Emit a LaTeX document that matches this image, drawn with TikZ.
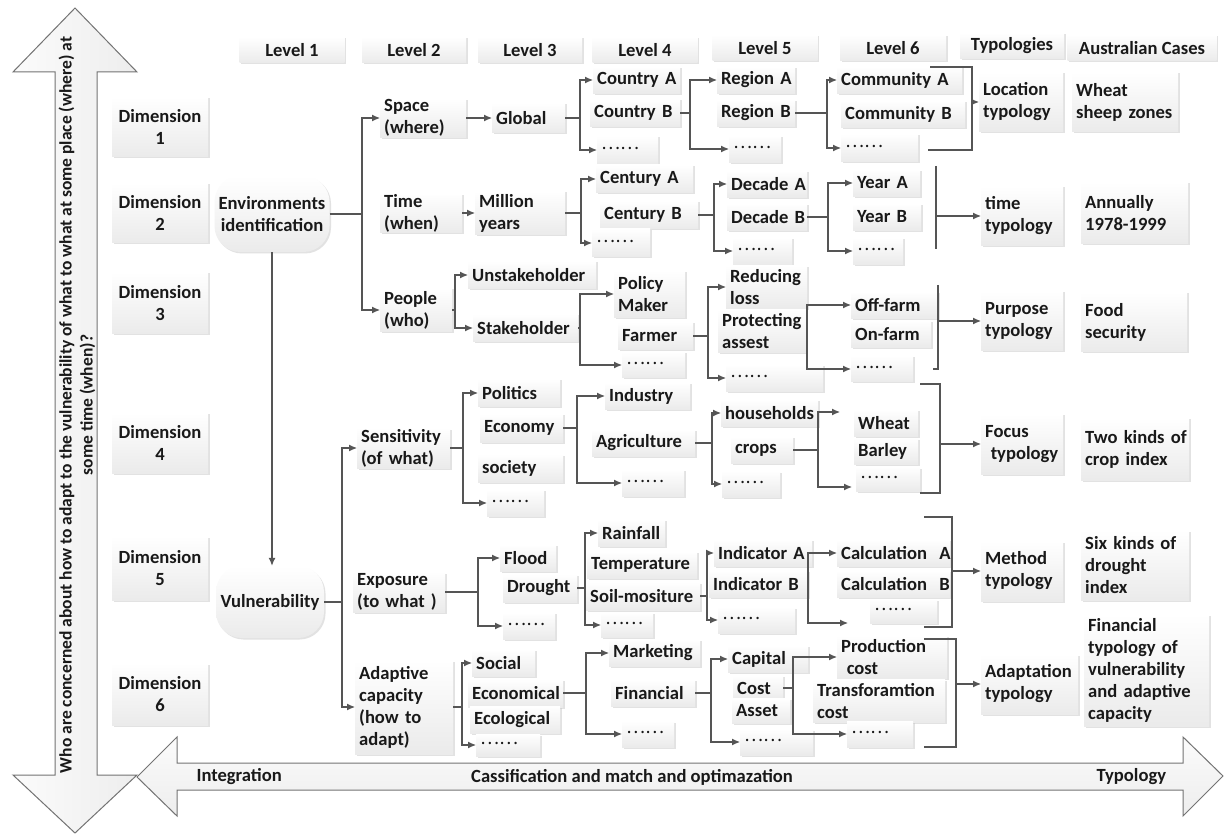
\documentclass[tikz,border=0pt]{standalone}
\usepackage{fontspec}
\setmainfont{Carlito}
\newfontfamily\cjk{Noto Sans CJK SC}
\usetikzlibrary{shadows,arrows.meta}
\definecolor{lncol}{RGB}{85,85,85}
\definecolor{txt}{RGB}{25,25,25}
\newcommand\dd{\raisebox{0.22em}{\cjk\mdseries\fontsize{18}{20}\selectfont ……}}
\newcommand\bn[6]{\pgfmathsetmacro\mytw{#4-8}\node[bx,anchor=west,text width=\mytw pt,minimum height=#5pt] (#1) at (#2,#3) {#6};}
\newcommand\cn[6]{\node[bx,anchor=center,align=center,minimum width=#4pt,minimum height=#5pt] (#1) at (#2,#3) {#6};}
\newcommand\fork[4]{\draw[ln] (#1.east) -- (#1.east -| #2);
  \draw[arr] (#1.east -| #2) |- (#3.west);
  \draw[arr] (#1.east -| #2) |- (#4.west);}
\begin{document}
\begin{tikzpicture}[x=1pt,y=-1pt,
  every node/.style={font=\bfseries\fontsize{18.6}{22}\selectfont, text=txt},
  bx/.style={top color=white, bottom color=gray!16,
    drop shadow={shadow xshift=1.5pt,shadow yshift=-1.5pt,fill=gray!45,opacity=.5},
    inner xsep=4pt, inner ysep=1pt, align=left},
  ln/.style={draw=lncol, line width=1.1pt},
  arr/.style={ln, -{Latex[length=8pt,width=7pt]}},
  big/.style={draw=black!55, line width=1pt}]
\useasboundingbox (0,0) rectangle (1227,834);
\fill[white] (0,0) rectangle (1227,834);

% big arrows
\path[big, left color=gray!3, right color=gray!14]
  (55,72) -- (13,72) -- (75,8) -- (137,72) -- (97,72) -- (97,775) -- (137,775) -- (75,833) -- (13,775) -- (55,775) -- cycle;
\path[big, top color=gray!3, bottom color=gray!14]
  (177,763) -- (177,737) -- (137,777) -- (177,816) -- (177,790) -- (1183,790) -- (1183,816) -- (1223,776) -- (1183,737) -- (1183,763) -- cycle;
\node[rotate=90, align=center, font=\bfseries\fontsize{17.5}{21}\selectfont] (vtext) at (77,405)
  {Who are concerned about how to adapt to the vulnerability of what to what at some place (where) at\\some time (when)?};
\node[anchor=west] (integ) at (193,777) {Integration};
\node (cass) at (632,777) {Cassification and match and optimazation};
\node[anchor=west] (typo) at (1093,777) {Typology};

% header
\cn{lv1}{292}{50}{105}{26}{Level 1}
\cn{lv2}{414}{50}{104}{26}{Level 2}
\cn{lv3}{530}{50}{104}{26}{Level 3}
\cn{lv4}{645}{50}{105}{26}{Level 4}
\cn{lv5}{765}{48}{105}{26}{Level 5}
\cn{lv6}{893}{48}{106}{26}{Level 6}
\cn{typ}{1012}{46}{104}{26}{Typologies}
\cn{aus}{1142}{48}{149}{26}{Australian Cases}

% dimensions
\cn{d1}{160}{127}{96}{60}{Dimension\\1}
\cn{d2}{160}{213}{96}{60}{Dimension\\2}
\cn{d3}{160}{303}{96}{62}{Dimension\\3}
\cn{d4}{160}{443}{96}{60}{Dimension\\4}
\cn{d5}{160}{568}{96}{64}{Dimension\\5}
\cn{d6}{160}{694}{96}{62}{Dimension\\6}

% level 1
\node[bx,anchor=center,align=center,rounded corners=26pt,minimum width=115pt,minimum height=76pt] (env) at (272,214) {Environments\\identification};
\node[bx,anchor=center,align=center,rounded corners=26pt,minimum width=108pt,minimum height=72pt] (vul) at (270,602) {Vulnerability};

% level 2
\bn{space}{380}{118}{86}{36}{Space\\(where)}
\bn{time}{380}{213}{82}{36}{Time\\(when)}
\bn{people}{380}{310}{72}{44}{People\\(who)}
\bn{sens}{357}{448}{93}{40}{Sensitivity\\(of~what)}
\bn{expo}{353}{592}{92}{40}{Exposure\\(to~what~)}
\bn{adap}{355}{707}{98}{94}{Adaptive\\capacity\\(how~to\\adapt)}

% level 3
\bn{global}{492}{118}{73}{30}{Global}
\bn{million}{475}{213}{90}{44}{Million\\years}
\bn{unstake}{468}{275}{128}{28}{Unstakeholder}
\bn{stake}{473}{328}{105}{28}{Stakeholder}
\bn{politics}{478}{393}{82}{28}{Politics}
\bn{economy}{480}{428}{83}{28}{Economy}
\bn{society}{478}{468}{85}{28}{society}
\bn{sdots}{487}{503}{57}{27}{\dd}
\bn{flood}{500}{558}{56}{27}{Flood}
\bn{drought}{503}{588}{74}{28}{Drought}
\bn{edots}{503}{626}{52}{27}{\dd}
\bn{social}{472}{663}{63}{27}{Social}
\bn{economical}{468}{693}{95}{28}{Economical}
\bn{ecological}{470}{720}{90}{27}{Ecological}
\bn{adots}{476}{745}{64}{22}{\dd}

% level 4
\bn{ctyA}{593}{80}{87}{27}{Country~A}
\bn{ctyB}{590}{113}{90}{28}{Country~B}
\bn{cdots}{597}{150}{61}{28}{\dd}
\bn{centA}{596}{179}{97}{28}{Century~A}
\bn{centB}{600}{215}{98}{28}{Century~B}
\bn{tdots}{592}{243}{58}{28}{\dd}
\bn{policy}{614}{294}{71}{47}{Policy\\Maker}
\bn{farmer}{618}{336}{75}{28}{Farmer}
\bn{pdots}{622}{365}{63}{26}{\dd}
\bn{industry}{605}{396}{85}{27}{Industry}
\bn{agri}{592}{443}{103}{27}{Agriculture}
\bn{idots}{622}{483}{62}{27}{\dd}
\bn{rain}{598}{533}{67}{27}{Rainfall}
\bn{temp}{587}{565}{110}{27}{Temperature}
\bn{soil}{586}{596}{114}{28}{Soil-mositure}
\bn{ddots}{601}{625}{52}{25}{\dd}
\bn{market}{609}{653}{91}{27}{Marketing}
\bn{financial}{611}{693}{84}{27}{Financial}
\bn{fdots}{622}{734}{52}{26}{\dd}

% level 5
\bn{regA}{717}{80}{78}{27}{Region~A}
\bn{regB}{717}{113}{78}{27}{Region~B}
\bn{rdots}{729}{149}{52}{27}{\dd}
\bn{decA}{727}{184}{80}{27}{Decade~A}
\bn{decB}{727}{217}{80}{27}{Decade~B}
\bn{dedots}{733}{251}{59}{27}{\dd}
\bn{reduce}{726}{287}{81}{43}{Reducing\\loss}
\bn{protect}{718}{331}{88}{43}{Protecting\\assest}
\bn{prdots}{726}{378}{97}{27}{\dd}
\bn{house}{721}{413}{97}{27}{households}
\bn{crops}{731}{450}{62}{27}{crops}
\bn{cdotsb}{722}{484}{58}{26}{\dd}
\bn{indA}{714}{553}{98}{27}{Indicator~A}
\bn{indB}{709}{584}{99}{27}{Indicator~B}
\bn{indots}{718}{620}{77}{26}{\dd}
\bn{capital}{728}{659}{80}{27}{Capital}
\bn{cost}{733}{688}{50}{25}{Cost}
\bn{asset}{732}{711}{58}{25}{Asset}
\bn{cadots}{740}{742}{73}{26}{\dd}

% level 6
\bn{comA}{837}{80}{125}{27}{Community~A}
\bn{comB}{841}{114}{124}{27}{Community~B}
\bn{codots}{841}{148}{77}{28}{\dd}
\bn{yearA}{853}{183}{67}{27}{Year~A}
\bn{yearB}{853}{217}{68}{27}{Year~B}
\bn{ydots}{853}{251}{50}{27}{\dd}
\bn{off}{851}{305}{87}{27}{Off-farm}
\bn{on}{851}{334}{80}{27}{On-farm}
\bn{odots}{851}{369}{62}{26}{\dd}
\bn{wheat}{854}{423}{64}{27}{Wheat}
\bn{barley}{854}{451}{64}{26}{Barley}
\bn{wdots}{856}{479}{64}{24}{\dd}
\bn{calcA}{837}{553}{113}{27}{Calculation~~A}
\bn{calcB}{837}{584}{113}{27}{Calculation~~B}
\bn{mdots}{870}{611}{67}{24}{\dd}
\bn{prod}{837}{657}{110}{43}{Production\\\hspace*{0.3em}cost}
\bn{trans}{813}{701}{132}{43}{Transforamtion\\cost}
\bn{trdots}{847}{734}{66}{26}{\dd}

% typologies
\bn{loc}{979}{102}{84}{60}{Location\\typology}
\bn{timet}{981}{216}{82}{60}{time\\typology}
\bn{purp}{981}{321}{82}{60}{Purpose\\typology}
\bn{focus}{981}{444}{82}{60}{Focus\\\hspace*{0.3em}typology}
\bn{method}{981}{571}{82}{60}{Method\\typology}
\bn{adapt}{981}{684}{97}{60}{Adaptation\\typology}

% cases
\bn{c1}{1072}{102}{106}{60}{Wheat\\sheep~zones}
\bn{c2}{1081}{213}{107}{62}{Annually\\1978-1999}
\bn{c3}{1081}{322}{106}{60}{Food\\security}
\bn{c4}{1081}{449}{108}{62}{Two~kinds~of\\crop~index}
\bn{c5}{1081}{565}{108}{70}{Six~kinds~of\\drought\\index}
\bn{c6}{1084}{670}{125}{112}{Financial\\typology~of\\vulnerability\\and~adaptive\\capacity}

% junction coordinates
\coordinate (jenv) at (362,0);
\coordinate (jpeo) at (455,0);
\coordinate (jvul) at (342,0);
\coordinate (jglo) at (580,0);
\coordinate (jmil) at (581,0);
\coordinate (jsta) at (580,0);
\coordinate (jsen) at (463,0);
\coordinate (jeco) at (577,0);
\coordinate (jexp) at (478,0);
\coordinate (jdro) at (585,0);
\coordinate (jada) at (462,0);
\coordinate (jecl) at (586,0);
\coordinate (jctb) at (690,0);
\coordinate (jcnb) at (714,0);
\coordinate (jfar) at (708,0);
\coordinate (jagr) at (712,0);
\coordinate (jsoi) at (707,0);
\coordinate (jfin) at (711,0);
\coordinate (jreg) at (827,0);
\coordinate (jdec) at (828,0);
\coordinate (jpro) at (807,0);
\coordinate (jcro) at (818,0);
\coordinate (jind) at (808,0);
\coordinate (jcos) at (793,0);
\coordinate (cw) at (840,412);
\coordinate (cb) at (852,487);
\coordinate (ci) at (848,623);

% connectors
\draw[arr] (env.south) -- (env.south |- vul.north);
\draw[arr] (space.east) -- (space.east -| global.west);
\draw[arr] (time.east) -- (time.east -| million.west);
\fork{env}{jenv}{space}{people}
\fork{people}{jpeo}{unstake}{stake}
\fork{vul}{jvul}{sens}{adap}
\fork{global}{jglo}{ctyA}{cdots}
\fork{million}{jmil}{centA}{tdots}
\fork{stake}{jsta}{policy}{pdots}
\fork{sens}{jsen}{politics}{sdots}
\fork{economy}{jeco}{industry}{idots}
\fork{expo}{jexp}{flood}{edots}
\fork{drought}{jdro}{rain}{ddots}
\fork{adap}{jada}{social}{adots}
\fork{economical}{jecl}{market}{fdots}
\fork{ctyB}{jctb}{regA}{rdots}
\fork{centB}{jcnb}{decA}{dedots}
\fork{farmer}{jfar}{reduce}{prdots}
\fork{agri}{jagr}{house}{cdotsb}
\fork{soil}{jsoi}{indA}{indots}
\fork{financial}{jfin}{capital}{cadots}
\fork{regB}{jreg}{comA}{codots}
\fork{decB}{jdec}{yearA}{ydots}
\fork{protect}{jpro}{off}{odots}
\fork{crops}{jcro}{cw}{cb}
\fork{indB}{jind}{calcA}{ci}
\fork{cost}{jcos}{prod}{trdots}

% typology brackets
\coordinate (l1) at (930,67); \coordinate (l2) at (972,67); \coordinate (l3) at (972,150); \coordinate (l4) at (928,150);
\draw[ln] (l1) -- (l2) -- (l3) -- (l4);
\draw[arr] (l2 |- loc.west) -- (loc.west);
\coordinate (t1) at (936,166); \coordinate (t2) at (936,249);
\draw[ln] (t1) -- (t2);
\draw[arr] (t1 |- timet.west) -- (timet.west);
\coordinate (p1) at (938,285); \coordinate (p2) at (938,369); \coordinate (p3) at (933,369);
\draw[ln] (p1) -- (p2) -- (p3);
\draw[arr] (p1 |- purp.west) -- (purp.west);
\coordinate (f1) at (920,384); \coordinate (f2) at (940,384); \coordinate (f3) at (940,493); \coordinate (f4) at (920,493);
\draw[ln] (f1) -- (f2) -- (f3) -- (f4);
\draw[arr] (f2 |- focus.west) -- (focus.west);
\coordinate (m1) at (924,517); \coordinate (m2) at (952,517); \coordinate (m3) at (952,627); \coordinate (m4) at (924,627);
\draw[ln] (m1) -- (m2) -- (m3) -- (m4);
\draw[arr] (m2 |- method.west) -- (method.west);
\coordinate (a1) at (924,639); \coordinate (a2) at (956,639); \coordinate (a3) at (956,747); \coordinate (a4) at (924,747);
\draw[ln] (a1) -- (a2) -- (a3) -- (a4);
\draw[arr] (a2 |- adapt.west) -- (adapt.west);
\end{tikzpicture}
\end{document}
